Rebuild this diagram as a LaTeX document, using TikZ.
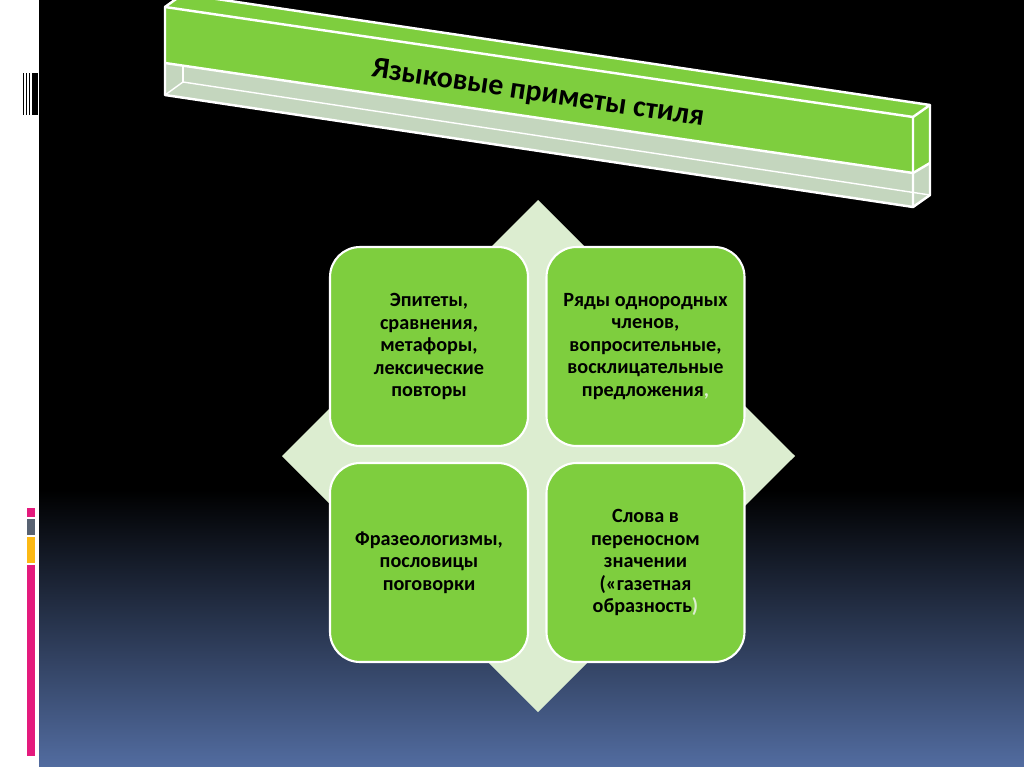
\documentclass[tikz,border=0pt]{standalone}
\usepackage{fontspec}
\setmainfont{Carlito}
\usepackage{tikz}
\usetikzlibrary{positioning, calc}
\definecolor{boxgreen}{RGB}{126,206,62}
\definecolor{pale}{RGB}{220,237,208}
\definecolor{glass}{RGB}{196,214,190}
\definecolor{bottomblue}{RGB}{82,108,160}
\definecolor{mypink}{RGB}{228,26,125}
\definecolor{mygrey}{RGB}{88,98,114}
\definecolor{myyellow}{RGB}{252,185,20}
\tikzset{
  itembox/.style={rectangle, draw=white, fill=boxgreen, line width=1.2pt,
    rounded corners=0.6cm, minimum width=3.96cm, minimum height=3.98cm,
    align=center, font=\fontsize{11.5}{12.8}\selectfont\bfseries},
  edge/.style={draw=white, line width=1.4pt, line join=round},
  thinedge/.style={draw=white, line width=0.8pt}
}

\begin{document}
\begin{tikzpicture}[x=0.02cm, y=-0.02cm]
  \useasboundingbox (0,0) rectangle (1024,767);
  % slide background
  \fill[white] (0,0) rectangle (39,767);
  \fill[black] (39,0) rectangle (1024,491);
  \shade[top color=black, bottom color=bottomblue] (39,490) rectangle (1024,767);
  \foreach \a/\b in {22.7/24, 26/27.3, 28.7/30, 32/37.7}
    \fill[black] (\a,73) rectangle (\b,115);
  \fill[mypink] (27,508) rectangle (35,517);
  \fill[mygrey] (27,519) rectangle (35,535);
  \fill[myyellow] (27,537) rectangle (35,563);
  \fill[mypink] (27,565) rectangle (35,756);

  % title bar
  \fill[glass] (165,63) -- (913,173) -- (913,207) -- (165,95) -- cycle;
  \fill[glass] (913,173) -- (930,163) -- (930,195) -- (913,207) -- cycle;
  \fill[boxgreen] (165,7) -- (913,117) -- (913,173) -- (165,63) -- cycle;
  \fill[boxgreen] (913,117) -- (930,105) -- (930,163) -- (913,173) -- cycle;
  \fill[boxgreen] (183,-6) -- (930,105) -- (913,117) -- (165,7) -- cycle;
  \draw[thinedge] (165,95) -- (183,82) -- (930,195);
  \draw[thinedge] (183,66) -- (183,82);
  \draw[edge] (165,7) -- (913,117) -- (913,207) -- (165,95) -- cycle;
  \draw[edge] (165,7) -- (183,-6) -- (930,105) -- (913,117);
  \draw[edge] (930,105) -- (930,195) -- (913,207);
  \draw[edge] (165,63) -- (913,173) -- (930,163);
  \node[rotate=-8.4, font=\fontsize{17}{19}\selectfont\bfseries] (title) at (538,94)
    {Языковые приметы стиля};

  % diamond behind the boxes
  \fill[pale] (538,200) -- (795,456) -- (538,712) -- (282,456) -- cycle;

  \node[itembox] (epit) at (429,346.5)
    {Эпитеты,\\сравнения,\\метафоры,\\лексические\\повторы};
  \node[itembox] (ryad) at (645.5,346.5)
    {Ряды однородных\\членов,\\вопросительные,\\восклицательные\\предложения{\color{pale},}};
  \node[itembox] (fraz) at (429,562.5)
    {Фразеологизмы,\\пословицы\\поговорки};
  \node[itembox] (slova) at (645.5,562.5)
    {Слова в\\переносном\\значении\\(«газетная\\образность{\color{pale})}};
\end{tikzpicture}
\end{document}
